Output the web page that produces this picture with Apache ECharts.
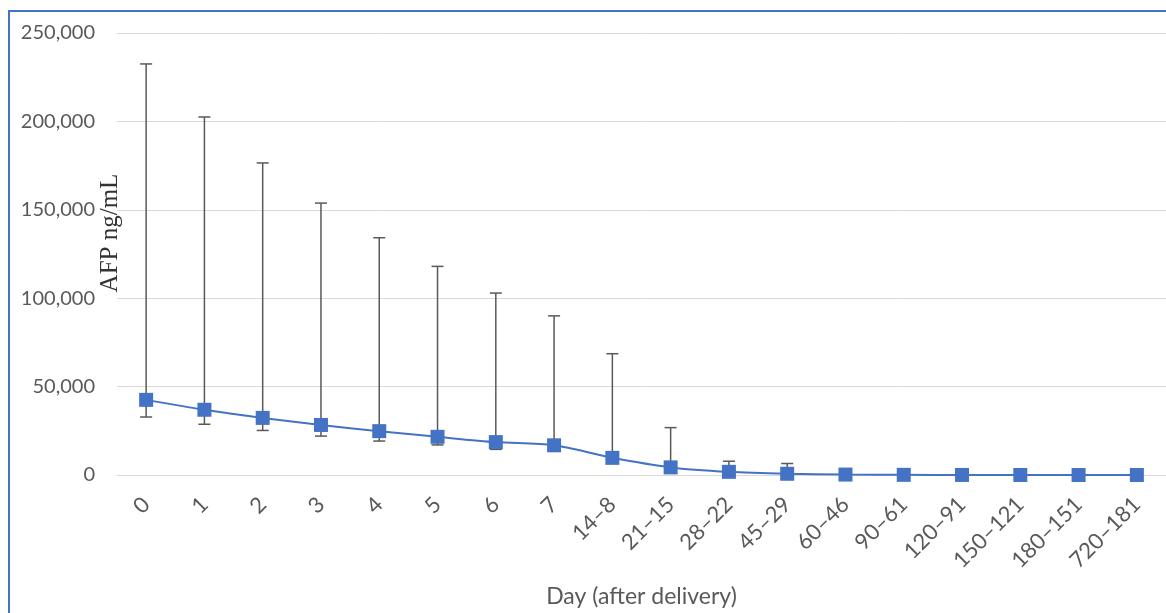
<!DOCTYPE html>
<html>
<head>
<meta charset="utf-8">
<script src="https://cdn.jsdelivr.net/npm/echarts@6/dist/echarts.min.js"></script>
<style>
html,body{margin:0;padding:0;background:#fff;}
#chart{width:1166px;height:613px;}
</style>
</head>
<body>
<div id="chart"></div>
<script>
var categories = ['0','1','2','3','4','5','6','7','14\u20138','21\u201315','28\u201322','45\u201329','60\u201346','90\u201361','120\u201391','150\u2013121','180\u2013151','720\u2013181'];
var afpMean = [42500, 36900, 32300, 28300, 24800, 21600, 18600, 16800, 9700, 4300, 1800, 700, 250, 100, 50, 20, 10, 5];
var errUpper = [232500, 202500, 176500, 153800, 134200, 118000, 102900, 90000, 68600, 26800, 7800, 6500, 1000, 400, 200, 80, 40, 20];
var errLower = [32800, 28700, 25200, 22000, 19200, 17000, 14500, 14500, null, null, null, null, null, null, null, null, null, null];
var yTicks = [0, 50000, 100000, 150000, 200000, 250000];

var errData = categories.map(function (c, i) { return [i, errUpper[i], errLower[i]]; });

var chart = echarts.init(document.getElementById('chart'), null, {renderer: 'canvas'});
var axisFont = 'Lato, "Open Sans", sans-serif';
chart.setOption({
  animation: false,
  backgroundColor: '#ffffff',
  grid: {left: 117, top: 33, width: 1055, height: 447, containLabel: false},
  xAxis: {
    type: 'category',
    data: categories,
    boundaryGap: true,
    axisLine: {show: false},
    axisTick: {show: false},
    axisLabel: {rotate: 45, margin: 26, color: '#595959', fontSize: 22, fontFamily: axisFont, interval: 0},
    name: 'Day (after delivery)',
    nameLocation: 'middle',
    nameGap: 110,
    nameTextStyle: {color: '#595959', fontSize: 23, fontFamily: axisFont}
  },
  yAxis: {
    type: 'value',
    min: yTicks[0],
    max: yTicks[yTicks.length - 1],
    interval: yTicks[1] - yTicks[0],
    axisLine: {show: false},
    axisTick: {show: false},
    splitLine: {lineStyle: {color: '#D9D9D9', width: 1}},
    axisLabel: {
      color: '#595959', fontSize: 20, fontFamily: axisFont, margin: 22,
      formatter: function (v) { return v.toLocaleString('en-US'); }
    }
  },
  graphic: [
    {type: 'rect', shape: {x: 9, y: 11, width: 1200, height: 700}, style: {fill: 'none', stroke: '#4472C4', lineWidth: 2}, z: 100, silent: true},
    {type: 'text', x: 110, y: 233, rotation: Math.PI / 2,
     style: {text: 'AFP ng/mL', fill: '#333333', font: '25px "Liberation Serif", "Times New Roman", serif', align: 'center', verticalAlign: 'middle'}, z: 50}
  ],
  series: [
    {
      type: 'custom',
      z: 1,
      data: errData,
      renderItem: function (params, api) {
        var x = api.coord([api.value(0), 0])[0];
        var hi = api.value(1), lo = api.value(2);
        var children = [];
        var style = {stroke: '#595959', lineWidth: 1.5};
        var pHi = api.coord([api.value(0), hi]);
        var yTop = pHi[1];
        var yBot;
        if (lo === null || lo === undefined || isNaN(lo)) {
          yBot = api.coord([api.value(0), afpMean[params.dataIndex]])[1];
        } else {
          yBot = api.coord([api.value(0), lo])[1];
          children.push({type: 'line', shape: {x1: x - 6, y1: yBot, x2: x + 6, y2: yBot}, style: style});
        }
        children.push({type: 'line', shape: {x1: x, y1: yTop, x2: x, y2: yBot}, style: style});
        children.push({type: 'line', shape: {x1: x - 6, y1: yTop, x2: x + 6, y2: yTop}, style: style});
        return {type: 'group', children: children};
      }
    },
    {
      type: 'line',
      z: 5,
      data: afpMean,
      smooth: 0.3,
      symbol: 'rect',
      symbolSize: 14,
      lineStyle: {color: '#4472C4', width: 2},
      itemStyle: {color: '#4472C4', borderColor: '#4472C4', borderWidth: 0}
    }
  ]
});
</script>
</body>
</html>
